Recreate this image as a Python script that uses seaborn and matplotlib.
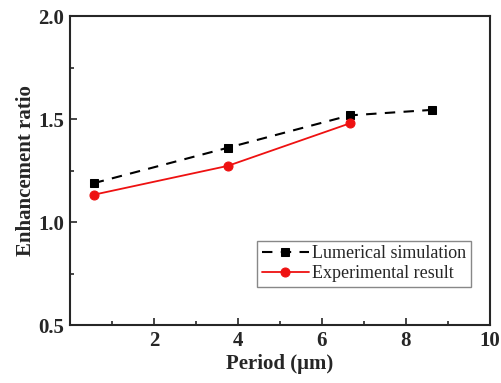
import matplotlib
matplotlib.use("Agg")
import matplotlib.pyplot as plt
import seaborn as sns
import pandas as pd
from matplotlib.ticker import MultipleLocator

sns.set_style("ticks")
plt.rcParams["font.family"] = ["Liberation Serif", "DejaVu Serif"]

# dados
sim_period = [0.57, 3.76, 6.66, 8.63]
sim_ratio = [1.189, 1.361, 1.518, 1.545]
exp_period = [0.57, 3.76, 6.66]
exp_ratio = [1.133, 1.273, 1.479]

sim = pd.DataFrame({"period": sim_period, "ratio": sim_ratio})
exp = pd.DataFrame({"period": exp_period, "ratio": exp_ratio})

fig = plt.figure(figsize=(5.02, 3.83), dpi=100)
ax = fig.add_axes([0.139, 0.151, 0.837, 0.807])

sns.lineplot(data=sim, x="period", y="ratio", ax=ax, color="black", linestyle=(0, (5, 4)),
             linewidth=1.5, marker="s", markersize=6, markeredgecolor="black",
             label="Lumerical simulation")
sns.lineplot(data=exp, x="period", y="ratio", ax=ax, color="#ee1111", linestyle="-",
             linewidth=1.3, marker="o", markersize=6.5, markeredgecolor="#ee1111",
             label="Experimental result")

ax.set_xlim(0, 10)
ax.set_ylim(0.5, 2.0)
ax.set_xticks([2, 4, 6, 8, 10])
ax.set_yticks([0.5, 1.0, 1.5, 2.0])
ax.xaxis.set_minor_locator(MultipleLocator(1))
ax.yaxis.set_minor_locator(MultipleLocator(0.25))
ax.tick_params(which="both", direction="in", width=1.2)
ax.tick_params(which="major", length=5, labelsize=15, pad=4)
ax.tick_params(which="minor", length=3)
for lab in ax.get_xticklabels() + ax.get_yticklabels():
    lab.set_fontweight("bold")
for s in ax.spines.values():
    s.set_linewidth(1.5)
    s.set_visible(True)

ax.set_xlabel("Period (μm)", fontsize=15, fontweight="bold", labelpad=2)
ax.set_ylabel("Enhancement ratio", fontsize=15, fontweight="bold", labelpad=2)

leg = ax.legend(loc="lower right", bbox_to_anchor=(0.955, 0.125), fontsize=13,
                frameon=True, fancybox=False, edgecolor="#888888", framealpha=1,
                handlelength=2.6, handletextpad=0.2, borderpad=0.25, labelspacing=0.15,
                borderaxespad=0)
leg.get_frame().set_linewidth(1.0)

fig.savefig("out.png", dpi=100)
